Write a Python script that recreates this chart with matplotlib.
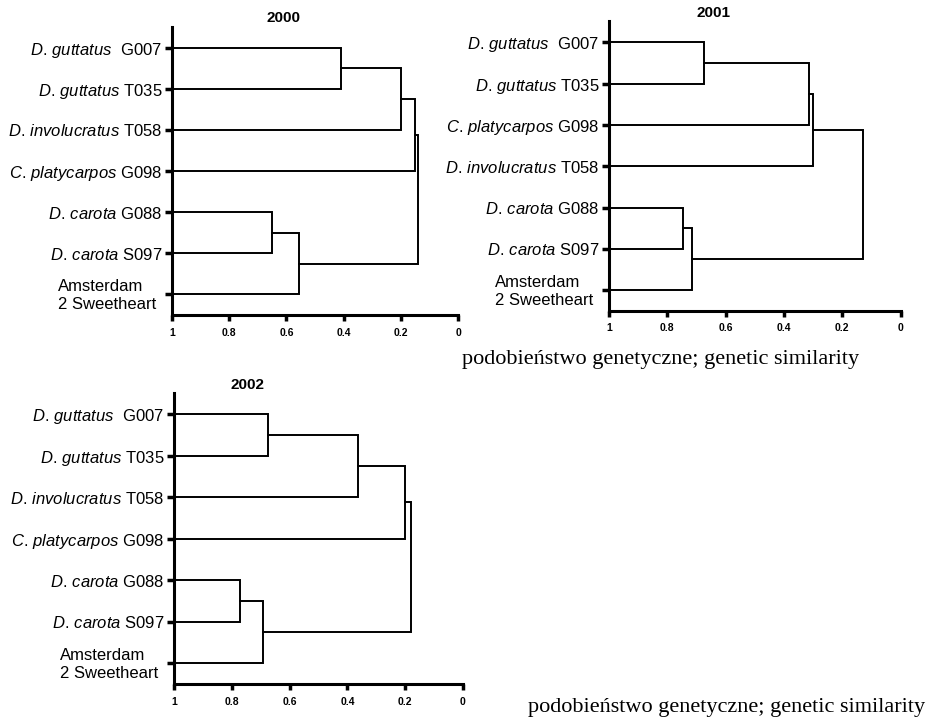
import matplotlib
matplotlib.use('Agg')
from matplotlib import pyplot as plt

plt.rcParams['font.family'] = 'Liberation Sans'
plt.rcParams['mathtext.fontset'] = 'custom'
plt.rcParams['mathtext.rm'] = 'Liberation Sans'
plt.rcParams['mathtext.it'] = 'Liberation Sans:italic'

# leaf labels, top to bottom, for each year
leaves_2000 = [r'$\mathit{D.\,guttatus}$  G007', r'$\mathit{D.\,guttatus}$ T035',
               r'$\mathit{D.\,involucratus}$ T058', r'$\mathit{C.\,platycarpos}$ G098',
               r'$\mathit{D.\,carota}$ G088', r'$\mathit{D.\,carota}$ S097',
               'Amsterdam\n2 Sweetheart']
leaves_2001 = [r'$\mathit{D.\,guttatus}$  G007', r'$\mathit{D.\,guttatus}$ T035',
               r'$\mathit{C.\,platycarpos}$ G098', r'$\mathit{D.\,involucratus}$ T058',
               r'$\mathit{D.\,carota}$ G088', r'$\mathit{D.\,carota}$ S097',
               'Amsterdam\n2 Sweetheart']
leaves_2002 = [r'$\mathit{D.\,guttatus}$  G007', r'$\mathit{D.\,guttatus}$ T035',
               r'$\mathit{D.\,involucratus}$ T058', r'$\mathit{C.\,platycarpos}$ G098',
               r'$\mathit{D.\,carota}$ G088', r'$\mathit{D.\,carota}$ S097',
               'Amsterdam\n2 Sweetheart']

# merges: pairs of node indices (leaves 0-6, new nodes from 7) and similarity
pairs_2000 = [(0, 1), (7, 2), (8, 3), (4, 5), (10, 6), (9, 11)]
sim_2000 = [0.41, 0.20, 0.15, 0.65, 0.555, 0.14]
pairs_2001 = [(0, 1), (7, 2), (8, 3), (4, 5), (10, 6), (9, 11)]
sim_2001 = [0.673, 0.313, 0.30, 0.747, 0.714, 0.128]
pairs_2002 = [(0, 1), (7, 2), (8, 3), (4, 5), (10, 6), (9, 11)]
sim_2002 = [0.675, 0.363, 0.20, 0.77, 0.692, 0.181]

xticks = [1, 0.8, 0.6, 0.4, 0.2, 0]
xtick_labels = ['1', '0.8', '0.6', '0.4', '0.2', '0']
caption = 'podobieństwo genetyczne; genetic similarity'


def dendro(ax, labels, pairs, sims, title, title_x):
    n = len(labels)
    ys = list(range(n))
    xs = [1.0] * n
    for (a, b), s in zip(pairs, sims):
        ax.plot([xs[a], s, s, xs[b]], [ys[a], ys[a], ys[b], ys[b]],
                color='black', lw=1.4, clip_on=False, solid_joinstyle='miter')
        xs.append(s)
        ys.append((ys[a] + ys[b]) / 2)
    ax.set_xlim(1, 0)
    ax.set_ylim(n - 0.5, -0.5)
    ax.spines['top'].set_visible(False)
    ax.spines['right'].set_visible(False)
    ax.spines['left'].set_linewidth(2.2)
    ax.spines['bottom'].set_linewidth(2.2)
    ax.set_yticks(range(n))
    ax.set_yticklabels(['' if '\n' in l else l for l in labels], fontsize=12)
    for i, l in enumerate(labels):
        if '\n' in l:
            ax.annotate(l, xy=(0, i), xycoords=ax.get_yaxis_transform(),
                        xytext=(-114, -1), textcoords='offset pixels',
                        ha='left', va='center', fontsize=12, linespacing=1.25)
    ax.tick_params(axis='y', length=5, width=2.5, pad=2)
    ax.set_xticks(xticks)
    ax.set_xticklabels(xtick_labels, fontsize=7.5, fontweight='bold')
    ax.tick_params(axis='x', length=4, width=2.5, pad=5)
    ax.text(title_x, 1.03, title, transform=ax.transAxes, ha='center',
            va='center', fontsize=11, fontweight='bold')


fig = plt.figure(figsize=(9.34, 7.21), dpi=100)
ax1 = fig.add_axes([0.1842, 0.5631, 0.3062, 0.3994])
ax2 = fig.add_axes([0.652, 0.5687, 0.3123, 0.4015])
ax3 = fig.add_axes([0.1863, 0.0513, 0.3094, 0.403])

dendro(ax1, leaves_2000, pairs_2000, sim_2000, '2000', 0.388)
dendro(ax2, leaves_2001, pairs_2001, sim_2001, '2001', 0.357)
dendro(ax3, leaves_2002, pairs_2002, sim_2002, '2002', 0.256)

fig.text(462 / 934, 1 - 364 / 721, caption, family='Liberation Serif',
         fontsize=16, va='baseline', ha='left')
fig.text(528 / 934, 1 - 712 / 721, caption, family='Liberation Serif',
         fontsize=16, va='baseline', ha='left')

fig.savefig('out.png', dpi=100)
